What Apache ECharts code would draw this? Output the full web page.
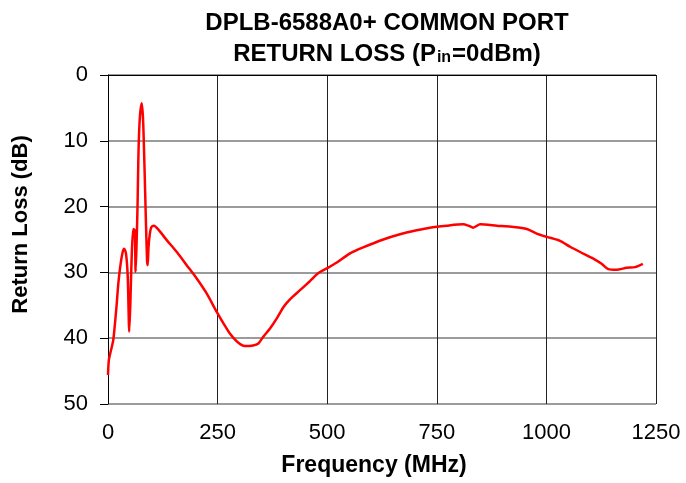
<!DOCTYPE html>
<html>
<head>
<meta charset="utf-8">
<script src="https://cdn.jsdelivr.net/npm/echarts@6/dist/echarts.min.js"></script>
<style>html,body{margin:0;padding:0;background:#fff}#c{width:686px;height:483px}</style>
</head>
<body>
<div id="c"></div>
<script>
var freqMHz = [0, 2, 7, 12, 16, 20, 23.5, 29, 33.5, 37, 41, 45, 48.5, 51, 54, 57.7, 61, 63, 65, 67.5, 69.5, 72.5, 77, 80, 83, 86, 89, 90.5, 92.5, 95.5, 99, 105, 115, 134, 157, 179.5, 202, 225, 248, 263, 278, 294, 312, 331, 343, 354, 370, 385, 400, 415, 438, 461, 480, 499, 522, 552, 582, 628, 666, 704, 734, 773, 810, 822, 833, 849, 887, 925, 955, 978, 1001, 1031, 1054, 1077, 1107, 1126, 1141, 1160, 1183, 1202, 1220];
var returnLossDB = [45.6, 43.3, 41.8, 40.3, 37.7, 34.7, 31.7, 28.6, 26.9, 26.4, 27.1, 30.6, 39.0, 34.7, 27.6, 23.4, 23.6, 29.9, 26.1, 19.5, 11.9, 6.6, 4.3, 6.8, 13.4, 21.0, 28.1, 28.9, 26.1, 24.1, 23.1, 22.9, 23.5, 25.1, 26.9, 28.9, 30.9, 33.2, 36.0, 37.7, 39.3, 40.5, 41.2, 41.1, 40.8, 39.8, 38.5, 37.0, 35.3, 34.1, 32.7, 31.3, 30.1, 29.4, 28.5, 27.1, 26.2, 25.0, 24.2, 23.6, 23.2, 22.9, 22.7, 22.9, 23.2, 22.7, 22.9, 23.1, 23.4, 24.1, 24.6, 25.2, 26.1, 26.9, 27.9, 28.7, 29.5, 29.6, 29.3, 29.2, 28.7];
var xTicks = [0, 250, 500, 750, 1000, 1250];
var yTicks = [0, 10, 20, 30, 40, 50];

var chart = echarts.init(document.getElementById('c'), null, {renderer: 'canvas'});
var ff = '"Liberation Sans", Arial, Helvetica, sans-serif';
chart.setOption({
  animation: false,
  backgroundColor: '#fff',
  title: {
    text: 'DPLB-6588A0+ COMMON PORT\nRETURN LOSS (P{sub|in}=0dBm)',
    left: 382, top: 3, textAlign: 'center',
    textStyle: {
      fontFamily: ff, fontWeight: 'bold', fontSize: 24, color: '#000', lineHeight: 31,
      rich: { sub: { fontFamily: ff, fontWeight: 'bold', fontSize: 16, color: '#000', verticalAlign: 'middle', lineHeight: 31, padding: [7, 1, 0, 1] } }
    }
  },
  grid: { left: 108, right: 30, top: 75, bottom: 79, containLabel: false },
  xAxis: {
    type: 'value', min: xTicks[0], max: xTicks[xTicks.length-1], interval: 250,
    name: 'Frequency (MHz)', nameLocation: 'middle', nameGap: 50,
    nameTextStyle: { fontFamily: ff, fontWeight: 'bold', fontSize: 23, color: '#000', padding: [0, 16, 0, 0] },
    axisLine: { show: true, lineStyle: { color: '#000', width: 1 } },
    axisTick: { show: false },
    axisLabel: { margin: 18, fontFamily: ff, fontSize: 22, color: '#000', formatter: function (v) { return String(v); } },
    splitLine: { show: true, lineStyle: { color: '#222', width: 1 } }
  },
  yAxis: {
    type: 'value', inverse: true, min: yTicks[0], max: yTicks[yTicks.length-1], interval: 10,
    name: 'Return Loss (dB)', nameLocation: 'middle', nameGap: 76,
    nameTextStyle: { fontFamily: ff, fontWeight: 'bold', fontSize: 22, color: '#000', padding: [0, 0, 0, 30] },
    axisLine: { show: true, lineStyle: { color: '#000', width: 1 } },
    axisTick: { show: true, inside: false, length: 8, lineStyle: { color: '#000' } },
    axisLabel: { margin: 20, fontFamily: ff, fontSize: 22, color: '#000', formatter: function (v) { return String(v); } },
    splitLine: { show: true, lineStyle: { color: '#7a7a7a', width: 1.5 } }
  },
  series: [{
    type: 'line',
    data: freqMHz.map(function (f, i) { return [f, returnLossDB[i]]; }),
    showSymbol: false, smooth: 0.25,
    lineStyle: { color: '#ff0000', width: 2.5 },
    itemStyle: { color: '#ff0000' }
  }]
});
</script>
</body>
</html>
